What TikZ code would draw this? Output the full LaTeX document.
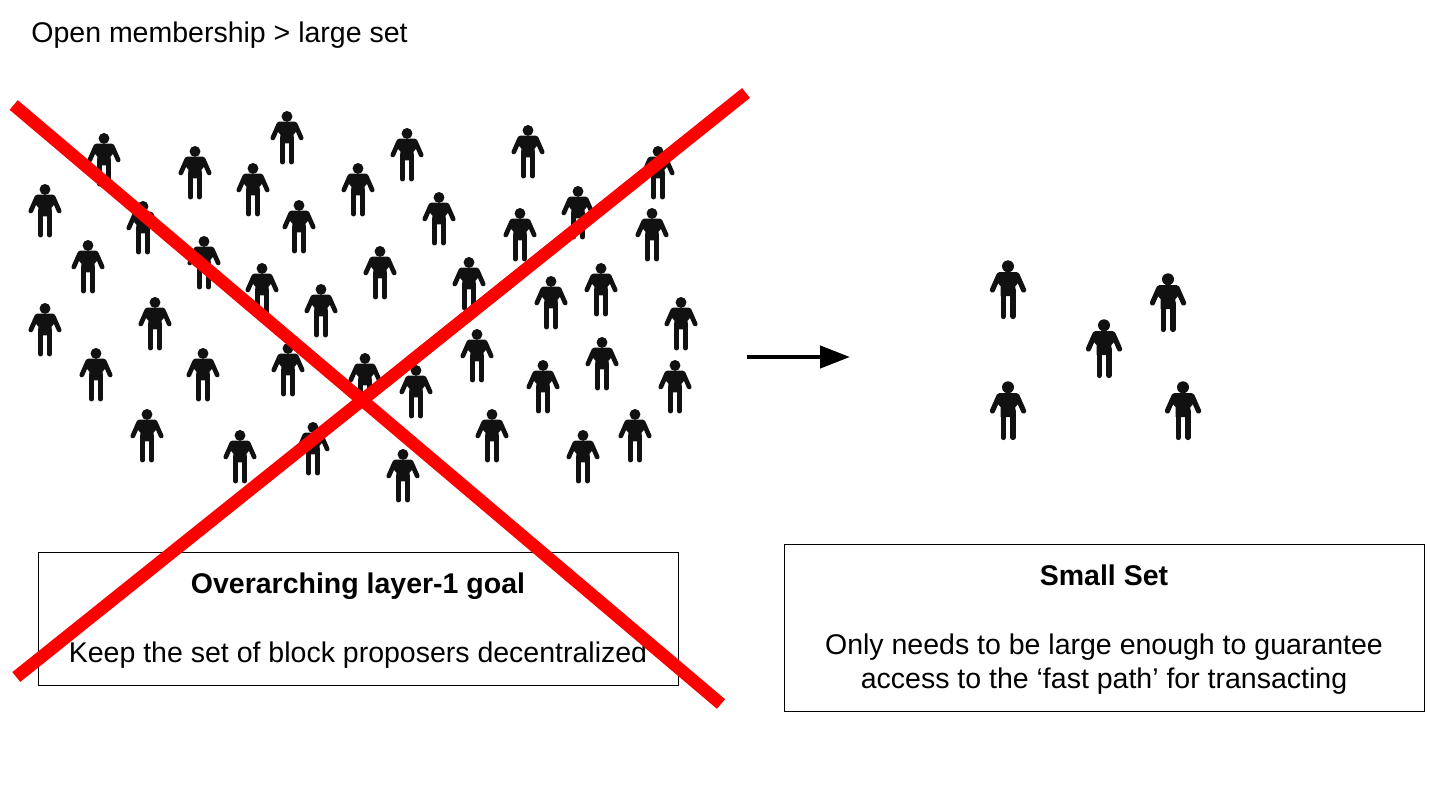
\documentclass[tikz,border=0pt]{standalone}
\usepackage{fontspec}
\setmainfont{Liberation Sans}
\usetikzlibrary{arrows.meta}
\definecolor{personblack}{HTML}{111111}
\tikzset{
  person/.pic={
    \fill[personblack] (0,-23.7) circle (6);
    \fill[personblack] (-9,-18) -- (9,-18) -- (12,-9) -- (7.4,-4) -- (7.4,6) -- (-7.4,6) -- (-7.4,-4) -- (-12,-9) -- cycle;
    \draw[personblack,line cap=round] (-9,-15) -- (-15.6,0) (9,-15) -- (15.6,0);
    \draw[personblack,line cap=round] (-4.9,0) -- (-4.9,26.5) (4.9,0) -- (4.9,26.5);
  },
  bigperson/.style={line width=2.6pt},
  smallperson/.style={scale=.91,line width=2.35pt},
  textbox/.style={draw,line width=.5pt,inner sep=0pt},
  label/.style={font=\fontsize{14.25}{16}\selectfont,inner sep=0pt,anchor=base},
  cross/.style={draw=red,line width=6.3pt}
}
\begin{document}
\begin{tikzpicture}[x=.5pt,y=-.5pt]
  \useasboundingbox (0,0) rectangle (1456,792);

  \node[label,anchor=base west] (title) at (31,43) {Open membership > large set};

  % large set
  \foreach \px/\py in {104/160,287/138,195/173,253/190,407/155,528/152,358/190,658/173,
    45/211,143/228,299/227,439/219,578/213,520/235,652/235,88/267,204/263,380/273,
    262/290,469/284,601/290,551/303,321/311,45/330,155/324,681/324,477/356,96/375,
    203/375,288/370,365/380,416/392,602/364,543/387,675/387,147/436,240/457,313/449,
    492/436,635/436,583/457,403/476}
    \pic[smallperson] at (\px,\py) {person};

  % small set
  \foreach \px/\py in {1008/290,1168/303,1104/349,1008/411,1183/411}
    \pic[bigperson] at (\px,\py) {person};

  \node[textbox,minimum width=320pt,minimum height=66.5pt] (goalbox) at (358,618.5) {};
  \node[label,font=\fontsize{14.25}{16}\selectfont\bfseries] (goalhead) at (358,593) {Overarching layer-1 goal};
  \node[label] (goaltext) at (358,662) {Keep the set of block proposers decentralized};

  \node[textbox,minimum width=320pt,minimum height=83.5pt] (smallbox) at (1104,627.5) {};
  \node[label,font=\fontsize{14.25}{16}\selectfont\bfseries] (smallhead) at (1104,585) {Small Set};
  \node[label] (smalltext1) at (1104,654) {Only needs to be large enough to guarantee};
  \node[label] (smalltext2) at (1104,688) {access to the ‘fast path’ for transacting};

  \coordinate (a1) at (13.7,105);
  \coordinate (a2) at (721,704);
  \coordinate (b1) at (746,93);
  \coordinate (b2) at (16.3,677);
  \draw[cross] (a1) -- (a2);
  \draw[cross] (b1) -- (b2);

  \coordinate (arrowstart) at (747,357);
  \coordinate (arrowend) at (850,357);
  \draw[line width=2.2pt,-{Triangle[length=15pt,width=11pt]}] (arrowstart) -- (arrowend);
\end{tikzpicture}
\end{document}
